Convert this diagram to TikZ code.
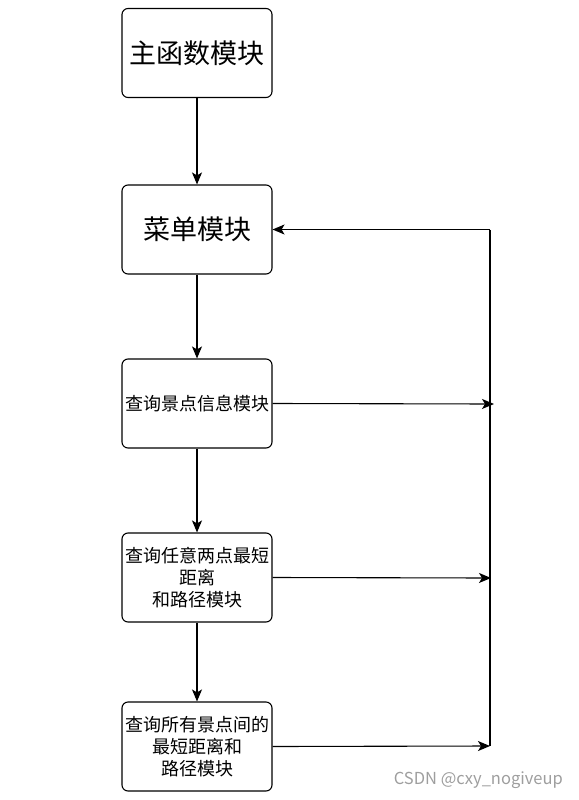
\documentclass[tikz,border=0pt]{standalone}
\usepackage{fontspec}
\setmainfont{Noto Sans CJK SC}
\usetikzlibrary{arrows.meta}
\begin{document}
\begin{tikzpicture}[x=1pt,y=-1pt,
  box/.style={draw, line width=1.1pt, rounded corners=6pt, minimum width=150pt, minimum height=89pt, inner sep=0pt, align=center, fill=white},
  big/.style={font=\fontsize{27}{31}\selectfont},
  small/.style={font=\fontsize{18}{22}\selectfont},
  conn/.style={line width=1.1pt, -{Stealth[length=12pt,width=10pt,inset=3pt]}},
  plain/.style={line width=1.1pt}]
\useasboundingbox (0,0) rectangle (578,800);
\node[box,big] (b1) at (197,53) {主函数模块};
\node[box,big] (b2) at (197,229.5) {菜单模块};
\node[box,small] (b3) at (197,403.5) {查询景点信息模块};
\node[box,small] (b4) at (197,577.5) {查询任意两点最短\\距离\\和路径模块};
\node[box,small] (b5) at (197,746.5) {查询所有景点间的\\最短距离和\\路径模块};
\coordinate (t3) at (494,404);
\coordinate (t4) at (491,578);
\coordinate (t5) at (490,746);
\coordinate (top) at (490,229.5);
\coordinate (bot) at (490,746);
\draw[conn] (b1) -- (b2);
\draw[conn] (b2) -- (b3);
\draw[conn] (b3) -- (b4);
\draw[conn] (b4) -- (b5);
\draw[plain] (bot) -- (top);
\draw[conn] (top) -- (b2.east);
\draw[conn] (b3.east) -- (t3);
\draw[conn] (b4.east) -- (t4);
\draw[conn] (b5.east) -- (t5);
\node[anchor=east, text=black!38, font=\fontsize{16.5}{19}\selectfont, inner sep=0pt] (wm) at (563,780) {CSDN @cxy\_nogiveup};
\end{tikzpicture}
\end{document}
